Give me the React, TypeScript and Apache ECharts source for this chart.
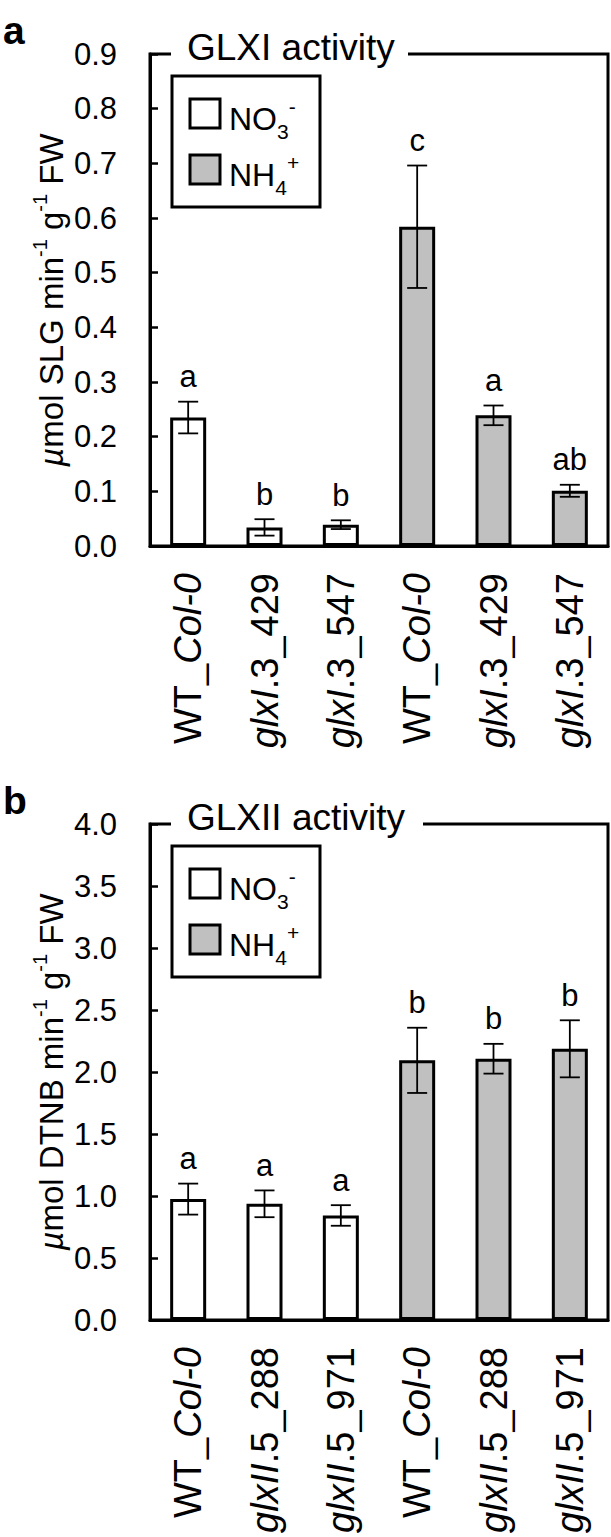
import React, { useEffect, useRef } from 'react';
import * as echarts from 'echarts';

// ---------- Panel a : GLXI activity ----------
const categoriesA = ['WT_Col-0', 'glxI.3_429', 'glxI.3_547', 'WT_Col-0', 'glxI.3_429', 'glxI.3_547'];
const no3MeanA = [0.235, 0.034, 0.039];
const no3ErrA = [0.029, 0.015, 0.008];
const nh4MeanA = [0.584, 0.239, 0.101];
const nh4ErrA = [0.112, 0.018, 0.011];
const lettersA = ['a', 'b', 'b', 'c', 'a', 'ab'];
const yMaxA = 0.9;
const yStepA = 0.1;

// ---------- Panel b : GLXII activity ----------
const categoriesB = ['WT_Col-0', 'glxII.5_288', 'glxII.5_971', 'WT_Col-0', 'glxII.5_288', 'glxII.5_971'];
const no3MeanB = [0.975, 0.937, 0.843];
const no3ErrB = [0.125, 0.108, 0.083];
const nh4MeanB = [2.094, 2.107, 2.187];
const nh4ErrB = [0.263, 0.12, 0.23];
const lettersB = ['a', 'a', 'a', 'b', 'b', 'b'];
const yMaxB = 4.0;
const yStepB = 0.5;

const FONT = '"Liberation Sans", Arial, Helvetica, sans-serif';
const GREY = '#c0c0c0';

function fmtCat(name: string): string {
  if (name.startsWith('WT_')) return '{n|WT_}{i|' + name.slice(3) + '}';
  const dot = name.indexOf('.');
  return '{i|' + name.slice(0, dot) + '}{n|' + name.slice(dot) + '}';
}

function buildPanel(idx: number, top: number, height: number, cats: string[], no3: number[], no3e: number[], nh4: number[], nh4e: number[], letters: string[], yMax: number, yStep: number) {
  const grid = { left: 150, top, width: 458, height, show: true, borderColor: '#000', borderWidth: 3, backgroundColor: 'transparent' };
  const xAxis = {
    type: 'category', gridIndex: idx, data: cats,
    axisLine: { lineStyle: { color: '#000', width: 3 } },
    axisTick: { show: false },
    axisLabel: {
      rotate: 90, margin: 27, interval: 0, color: '#000',
      formatter: (v: string) => fmtCat(v),
      rich: {
        n: { fontFamily: FONT, fontSize: 38, color: '#000' },
        i: { fontFamily: FONT, fontSize: 38, fontStyle: 'italic', color: '#000' },
      },
    },
  };
  const yAxis = {
    type: 'value', gridIndex: idx, min: 0, max: yMax, interval: yStep,
    axisLine: { show: true, lineStyle: { color: '#000', width: 3 } },
    axisTick: { show: true, inside: true, length: 8, lineStyle: { color: '#000', width: 2.5 } },
    splitLine: { show: false },
    axisLabel: { color: '#000', fontFamily: FONT, fontSize: 31, margin: 33, formatter: (v: number) => v.toFixed(1) },
  };
  const blanks = no3.map(() => '-');
  const means = [...no3, ...nh4];
  const errs = [...no3e, ...nh4e];
  const series = [
    {
      name: 'NO3', type: 'bar', xAxisIndex: idx, yAxisIndex: idx, barWidth: 36, barGap: '-100%',
      data: [...no3, ...blanks],
      itemStyle: { color: '#fff', borderColor: '#000', borderWidth: 3 },
    },
    {
      name: 'NH4', type: 'bar', xAxisIndex: idx, yAxisIndex: idx, barWidth: 36, barGap: '-100%',
      data: [...blanks, ...nh4],
      itemStyle: { color: GREY, borderColor: '#000', borderWidth: 3 },
    },
    {
      type: 'custom', xAxisIndex: idx, yAxisIndex: idx, clip: false, z: 5,
      data: means.map((m, i) => [i, m, errs[i]]),
      renderItem: (params: any, api: any) => {
        const i = api.value(0);
        const m = api.value(1);
        const e = api.value(2);
        const t = api.coord([i, m + e]);
        const b = api.coord([i, m - e]);
        const hw = 10;
        const style = { stroke: '#000', lineWidth: 1.8 };
        return {
          type: 'group',
          children: [
            { type: 'line', shape: { x1: t[0], y1: t[1], x2: b[0], y2: b[1] }, style },
            { type: 'line', shape: { x1: t[0] - hw, y1: t[1], x2: t[0] + hw, y2: t[1] }, style },
            { type: 'line', shape: { x1: b[0] - hw, y1: b[1], x2: b[0] + hw, y2: b[1] }, style },
            {
              type: 'text', x: t[0], y: t[1] - 25,
              style: { text: letters[params.dataIndex], fill: '#000', fontSize: 31, fontFamily: FONT, align: 'center', verticalAlign: 'middle' },
            },
          ],
        };
      },
    },
  ];
  return { grid, xAxis, yAxis, series };
}

function legendGraphics(top: number) {
  const supRich = {
    n: { fontFamily: FONT, fontSize: 32, lineHeight: 46, fill: '#000' },
    sub: { fontFamily: FONT, fontSize: 21, lineHeight: 25, verticalAlign: 'bottom', fill: '#000' },
    sup: { fontFamily: FONT, fontSize: 21, lineHeight: 25, verticalAlign: 'top', fill: '#000' },
  };
  return [
    { type: 'rect', z: 100, shape: { x: 172, y: top + 22, width: 148, height: 131 }, style: { fill: '#fff', stroke: '#000', lineWidth: 3 } },
    { type: 'rect', z: 101, shape: { x: 190, y: top + 45, width: 30, height: 29 }, style: { fill: '#fff', stroke: '#000', lineWidth: 3 } },
    { type: 'rect', z: 101, shape: { x: 190, y: top + 101, width: 30, height: 29 }, style: { fill: GREY, stroke: '#000', lineWidth: 3 } },
    { type: 'text', z: 101, x: 229, y: top + 65, style: { text: '{n|NO}{sub|3}{sup|-}', rich: supRich, align: 'left', verticalAlign: 'middle' } },
    { type: 'text', z: 101, x: 229, y: top + 121, style: { text: '{n|NH}{sub|4}{sup|+}', rich: supRich, align: 'left', verticalAlign: 'middle' } },
  ];
}

function titleGraphics(top: number, text: string, gapW: number) {
  return [
    { type: 'rect', z: 100, shape: { x: 171, y: top - 8, width: gapW, height: 16 }, style: { fill: '#fff' } },
    { type: 'text', z: 101, x: 187, y: top - 7, style: { text, fill: '#000', fontSize: 37, fontFamily: FONT, align: 'left', verticalAlign: 'middle' } },
  ];
}

function yNameGraphic(cx: number, cy: number, unit: string) {
  const rich = {
    n: { fontFamily: FONT, fontSize: 33, lineHeight: 42, fill: '#000' },
    i: { fontFamily: FONT, fontSize: 33, lineHeight: 42, fontStyle: 'italic', fill: '#000' },
    sup: { fontFamily: FONT, fontSize: 20, lineHeight: 26, verticalAlign: 'top', fill: '#000' },
  };
  return {
    type: 'text', z: 101, x: cx, y: cy, rotation: Math.PI / 2,
    style: { text: '{i|µ}{n|mol ' + unit + ' min}{sup|-1}{n| g}{sup|-1}{n| FW}', rich, align: 'center', verticalAlign: 'middle' },
  };
}

export default function App() {
  const ref = useRef<HTMLDivElement>(null);
  useEffect(() => {
    if (!ref.current) return;
    const chart = echarts.init(ref.current, undefined, { renderer: 'svg' });
    const topA = 54, hA = 492;
    const topB = 824, hB = 496;
    const pa = buildPanel(0, topA, hA, categoriesA, no3MeanA, no3ErrA, nh4MeanA, nh4ErrA, lettersA, yMaxA, yStepA);
    const pb = buildPanel(1, topB, hB, categoriesB, no3MeanB, no3ErrB, nh4MeanB, nh4ErrB, lettersB, yMaxB, yStepB);
    chart.setOption({
      animation: false,
      backgroundColor: '#fff',
      grid: [pa.grid, pb.grid],
      xAxis: [pa.xAxis, pb.xAxis],
      yAxis: [pa.yAxis, pb.yAxis],
      series: [...pa.series, ...pb.series],
      graphic: [
        { type: 'text', z: 101, x: 3, y: 30, style: { text: 'a', fill: '#000', fontSize: 39, fontWeight: 'bold', fontFamily: FONT, align: 'left', verticalAlign: 'middle' } },
        { type: 'text', z: 101, x: 3, y: 800, style: { text: 'b', fill: '#000', fontSize: 39, fontWeight: 'bold', fontFamily: FONT, align: 'left', verticalAlign: 'middle' } },
        ...titleGraphics(topA, 'GLXI activity', 237),
        ...titleGraphics(topB, 'GLXII activity', 252),
        ...legendGraphics(topA),
        ...legendGraphics(topB),
        yNameGraphic(51, topA + hA / 2, 'SLG'),
        yNameGraphic(51, topB + hB / 2, 'DTNB'),
      ],
    });
    return () => chart.dispose();
  }, []);
  return <div ref={ref} style={{ position: 'absolute', left: 0, top: 0, width: 611, height: 1537 }} />;
}
